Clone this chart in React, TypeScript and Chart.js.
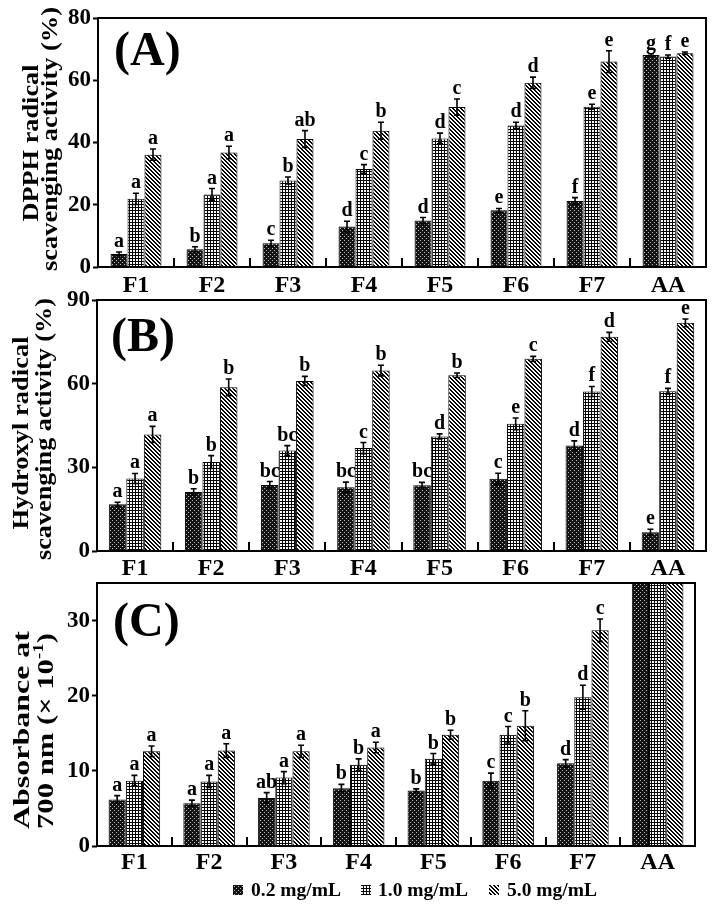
import React, { useEffect, useRef } from 'react';
import { Chart, registerables } from 'chart.js';

Chart.register(...registerables);

// ---------------- data ----------------
const categories = ['F1', 'F2', 'F3', 'F4', 'F5', 'F6', 'F7', 'AA'];
const seriesNames = ['0.2 mg/mL', '1.0 mg/mL', '5.0 mg/mL'];

// (A) DPPH radical scavenging activity (%)
const dpph02 = [4.2, 5.7, 7.6, 13.0, 14.9, 18.2, 21.2, 68.1];
const dpph02Err = [0.6, 0.8, 1.0, 1.7, 1.0, 0.6, 1.1, 0.4];
const dpph10 = [21.9, 23.3, 27.8, 31.5, 41.3, 45.5, 51.5, 67.6];
const dpph10Err = [1.8, 1.9, 1.1, 1.4, 1.7, 1.0, 0.8, 0.5];
const dpph50 = [36.1, 36.8, 41.1, 43.8, 51.4, 59.2, 66.0, 68.7];
const dpph50Err = [1.8, 2.0, 2.7, 2.7, 2.6, 1.8, 3.5, 0.4];
const dpphLet02 = ['a', 'b', 'c', 'd', 'd', 'e', 'f', 'g'];
const dpphLet10 = ['a', 'a', 'b', 'c', 'd', 'd', 'e', 'f'];
const dpphLet50 = ['a', 'a', 'ab', 'b', 'c', 'd', 'e', 'e'];

// (B) Hydroxyl radical scavenging activity (%)
const hydro02 = [16.8, 21.2, 23.7, 22.9, 23.6, 25.9, 37.8, 6.7];
const hydro02Err = [0.7, 1.1, 1.2, 1.8, 1.0, 2.0, 1.7, 1.1];
const hydro10 = [26.0, 31.9, 36.0, 36.9, 41.1, 45.6, 57.2, 57.3];
const hydro10Err = [1.8, 2.3, 1.8, 2.0, 0.9, 2.1, 1.8, 1.0];
const hydro50 = [41.8, 58.7, 61.0, 64.7, 63.0, 68.9, 76.8, 81.8];
const hydro50Err = [2.9, 3.0, 1.6, 1.9, 0.8, 0.9, 1.6, 1.4];
const hydroLet02 = ['a', 'b', 'bc', 'bc', 'bc', 'c', 'd', 'e'];
const hydroLet10 = ['a', 'b', 'bc', 'c', 'd', 'e', 'f', 'f'];
const hydroLet50 = ['a', 'b', 'b', 'b', 'b', 'c', 'd', 'e'];

// (C) Absorbance at 700 nm (x 10^-1)
const abs02 = [6.2, 5.7, 6.4, 7.7, 7.4, 8.7, 11.0, 45];
const abs02Err = [0.5, 0.4, 0.7, 0.5, 0.2, 1.0, 0.5, 0];
const abs10 = [8.7, 8.6, 9.1, 10.8, 11.6, 14.8, 19.8, 45];
const abs10Err = [0.7, 0.8, 0.8, 0.8, 0.7, 1.1, 1.6, 0];
const abs50 = [12.6, 12.7, 12.6, 13.1, 14.8, 16.0, 28.7, 45];
const abs50Err = [0.7, 0.9, 0.8, 0.7, 0.6, 2.0, 1.5, 0];
const absLet02 = ['a', 'a', 'ab', 'b', 'b', 'c', 'd', ''];
const absLet10 = ['a', 'a', 'a', 'b', 'b', 'c', 'd', ''];
const absLet50 = ['a', 'a', 'a', 'a', 'b', 'b', 'c', ''];

// ---------------- styling ----------------
const FONT = "'Liberation Serif', 'Times New Roman', serif";
const W = 713;
const H = 909;

type Seg = { t: string; sup?: boolean };
type TitleLine = { segs: Seg[]; bx: number; cy: number; len: number };

interface PanelDef {
  values: number[][];
  errors: number[][];
  letters: string[][];
  yMax: number;
  yStep: number;
  area: { left: number; top: number; right: number; bottom: number };
  frac: number;
  xPad: number;
  label: string;
  labelX: number;
  labelY: number;
  titles: TitleLine[];
  legend: boolean;
}

function makePattern(kind: number): CanvasPattern | string {
  const c = document.createElement('canvas');
  const size = kind === 1 ? 3 : 4;
  c.width = size;
  c.height = size;
  const g = c.getContext('2d');
  if (!g) return '#333';
  if (kind === 0) {
    g.fillStyle = '#141414';
    g.fillRect(0, 0, 4, 4);
    g.fillStyle = '#bdbdbd';
    g.fillRect(0, 0, 1, 1);
    g.fillRect(2, 2, 1, 1);
  } else if (kind === 1) {
    g.fillStyle = '#ffffff';
    g.fillRect(0, 0, 3, 3);
    g.fillStyle = '#000000';
    g.fillRect(0, 0, 3, 1);
    g.fillRect(0, 0, 1, 3);
  } else {
    g.fillStyle = '#ffffff';
    g.fillRect(0, 0, 4, 4);
    g.fillStyle = '#000000';
    for (let y = 0; y < 4; y++) {
      for (let x = 0; x < 4; x++) {
        if ((((x - y) % 4) + 4) % 4 < 2) g.fillRect(x, y, 1, 1);
      }
    }
  }
  return g.createPattern(c, 'repeat') || '#333';
}

function drawRotLine(ctx: CanvasRenderingContext2D, line: TitleLine, size: number) {
  const widths: number[] = [];
  let total = 0;
  for (const s of line.segs) {
    ctx.font = `bold ${s.sup ? size * 0.62 : size}px ${FONT}`;
    const w = ctx.measureText(s.t).width;
    widths.push(w);
    total += w;
  }
  const sx = line.len / total;
  ctx.save();
  ctx.translate(line.bx, line.cy);
  ctx.rotate(-Math.PI / 2);
  ctx.scale(sx, 1);
  ctx.fillStyle = '#000';
  ctx.textAlign = 'left';
  ctx.textBaseline = 'alphabetic';
  let x = -total / 2;
  line.segs.forEach((s, i) => {
    ctx.font = `bold ${s.sup ? size * 0.62 : size}px ${FONT}`;
    ctx.fillText(s.t, x, s.sup ? -size * 0.4 : 0);
    x += widths[i];
  });
  ctx.restore();
}

function makeDecor(def: PanelDef, patterns: (CanvasPattern | string)[]) {
  return {
    id: 'decor',
    afterDraw(chart: any) {
      const ctx: CanvasRenderingContext2D = chart.ctx;
      const { left, right, top, bottom } = chart.chartArea;
      const yS = chart.scales.y;
      const xS = chart.scales.x;
      ctx.save();
      ctx.strokeStyle = '#000';
      ctx.fillStyle = '#000';

      // error bars and letters
      def.values.forEach((vals, d) => {
        const meta = chart.getDatasetMeta(d);
        vals.forEach((v, i) => {
          const e = def.errors[d][i];
          const el = meta.data[i];
          if (!el || v + e > def.yMax) return;
          const x = el.x;
          const yT = yS.getPixelForValue(v + e);
          const yB = yS.getPixelForValue(Math.max(0, v - e));
          if (e > 0) {
            ctx.lineWidth = 1.6;
            ctx.beginPath();
            ctx.moveTo(x, yB);
            ctx.lineTo(x, yT);
            ctx.moveTo(x - 3, yT);
            ctx.lineTo(x + 3, yT);
            ctx.moveTo(x - 3, yB);
            ctx.lineTo(x + 3, yB);
            ctx.stroke();
          }
          const lt = def.letters[d][i];
          if (lt) {
            ctx.font = `bold 20px ${FONT}`;
            ctx.textAlign = 'center';
            ctx.textBaseline = 'alphabetic';
            ctx.fillText(lt, x, yT - 5);
          }
        });
      });

      // frame
      ctx.lineWidth = 2;
      ctx.strokeRect(left, top, right - left, bottom - top);

      // category boundary ticks (inward)
      const n = categories.length;
      const step = (right - left) / n;
      ctx.lineWidth = 2;
      ctx.beginPath();
      for (let i = 1; i < n; i++) {
        const bx = Math.round(xS.getPixelForValue(i) - step / 2);
        ctx.moveTo(bx, bottom);
        ctx.lineTo(bx, bottom - 9);
      }
      ctx.stroke();

      // panel label
      ctx.font = `bold 48px ${FONT}`;
      ctx.textAlign = 'left';
      ctx.textBaseline = 'alphabetic';
      ctx.fillText(def.label, def.labelX, def.labelY);

      // y titles
      for (const t of def.titles) drawRotLine(ctx, t, 24);

      // legend
      if (def.legend) {
        const items = [
          { bx: 233, tx: 251 },
          { bx: 361, tx: 378 },
          { bx: 489, tx: 507 },
        ];
        const cy = 890;
        items.forEach((it, i) => {
          ctx.fillStyle = patterns[i] as any;
          ctx.fillRect(it.bx, cy - 5, 10, 10);
          ctx.fillStyle = '#000';
          ctx.font = `bold 19.5px ${FONT}`;
          ctx.textAlign = 'left';
          ctx.textBaseline = 'middle';
          ctx.fillText(seriesNames[i], it.tx, cy + 1);
        });
      }
      ctx.restore();
    },
  };
}

const panelA: PanelDef = {
  values: [dpph02, dpph10, dpph50],
  errors: [dpph02Err, dpph10Err, dpph50Err],
  letters: [dpphLet02, dpphLet10, dpphLet50],
  yMax: 80,
  yStep: 20,
  area: { left: 98, top: 18, right: 706, bottom: 267 },
  frac: 0.67,
  xPad: 4,
  label: '(A)',
  labelX: 114,
  labelY: 65,
  titles: [
    { segs: [{ t: 'DPPH radical' }], bx: 38, cy: 143, len: 157 },
    { segs: [{ t: 'scavenging activity (%)' }], bx: 57, cy: 139, len: 264 },
  ],
  legend: false,
};

const panelB: PanelDef = {
  values: [hydro02, hydro10, hydro50],
  errors: [hydro02Err, hydro10Err, hydro50Err],
  letters: [hydroLet02, hydroLet10, hydroLet50],
  yMax: 90,
  yStep: 30,
  area: { left: 97, top: 300, right: 706, bottom: 551 },
  frac: 0.69,
  xPad: 3,
  label: '(B)',
  labelX: 111,
  labelY: 351,
  titles: [
    { segs: [{ t: 'Hydroxyl radical' }], bx: 28, cy: 433, len: 193 },
    { segs: [{ t: 'scavenging activity (%)' }], bx: 51, cy: 429, len: 262 },
  ],
  legend: false,
};

const panelC: PanelDef = {
  values: [abs02, abs10, abs50],
  errors: [abs02Err, abs10Err, abs50Err],
  letters: [absLet02, absLet10, absLet50],
  yMax: 35,
  yStep: 10,
  area: { left: 97, top: 583, right: 695, bottom: 846 },
  frac: 0.69,
  xPad: 2,
  label: '(C)',
  labelX: 113,
  labelY: 636,
  titles: [
    { segs: [{ t: 'Absorbance at' }], bx: 29, cy: 730, len: 198 },
    {
      segs: [{ t: '700 nm (\u00d7 10' }, { t: '-1', sup: true }, { t: ')' }],
      bx: 53,
      cy: 731,
      len: 196,
    },
  ],
  legend: true,
};

function Panel({ def }: { def: PanelDef }) {
  const ref = useRef<HTMLCanvasElement | null>(null);
  useEffect(() => {
    const canvas = ref.current;
    if (!canvas) return;
    const patterns = [0, 1, 2].map((k) => makePattern(k));
    const a = def.area;
    const chart = new Chart(canvas, {
      type: 'bar',
      data: {
        labels: categories,
        datasets: def.values.map((v, i) => ({
          label: seriesNames[i],
          data: v,
          backgroundColor: patterns[i] as any,
          borderColor: '#000',
          borderWidth: 1,
          categoryPercentage: def.frac,
          barPercentage: 1,
          clip: 0,
        })),
      },
      options: {
        responsive: false,
        animation: false,
        events: [],
        layout: {
          padding: { left: 0, top: a.top, right: W - a.right, bottom: H - a.bottom - 30 },
        },
        plugins: {
          legend: { display: false },
          tooltip: { enabled: false },
          title: { display: false },
        },
        scales: {
          x: {
            offset: true,
            grid: { display: false, drawTicks: false },
            border: { display: false },
            ticks: {
              color: '#000',
              padding: def.xPad,
              maxRotation: 0,
              autoSkip: false,
              font: { family: FONT, size: 24, weight: 'bold' },
            },
            afterFit: (s: any) => {
              s.height = 30;
            },
          },
          y: {
            min: 0,
            max: def.yMax,
            grid: {
              drawOnChartArea: false,
              drawTicks: true,
              tickLength: 5,
              tickWidth: 2,
              tickColor: '#000',
            },
            border: { display: false },
            ticks: {
              stepSize: def.yStep,
              color: '#000',
              padding: 2,
              font: { family: FONT, size: 23, weight: 'bold' },
            },
            afterBuildTicks: (s: any) => {
              s.ticks = s.ticks.filter((t: any) => t.value % def.yStep === 0);
            },
            afterFit: (s: any) => {
              s.width = a.left;
            },
          },
        },
      } as any,
      plugins: [makeDecor(def, patterns)],
    });
    return () => chart.destroy();
  }, [def]);
  return (
    <canvas
      ref={ref}
      width={W}
      height={H}
      style={{ position: 'absolute', left: 0, top: 0, width: W, height: H }}
    />
  );
}

export default function App() {
  return (
    <div
      style={{
        position: 'absolute',
        left: 0,
        top: 0,
        width: W,
        height: H,
        background: '#fff',
        overflow: 'hidden',
      }}
    >
      <Panel def={panelA} />
      <Panel def={panelB} />
      <Panel def={panelC} />
    </div>
  );
}
